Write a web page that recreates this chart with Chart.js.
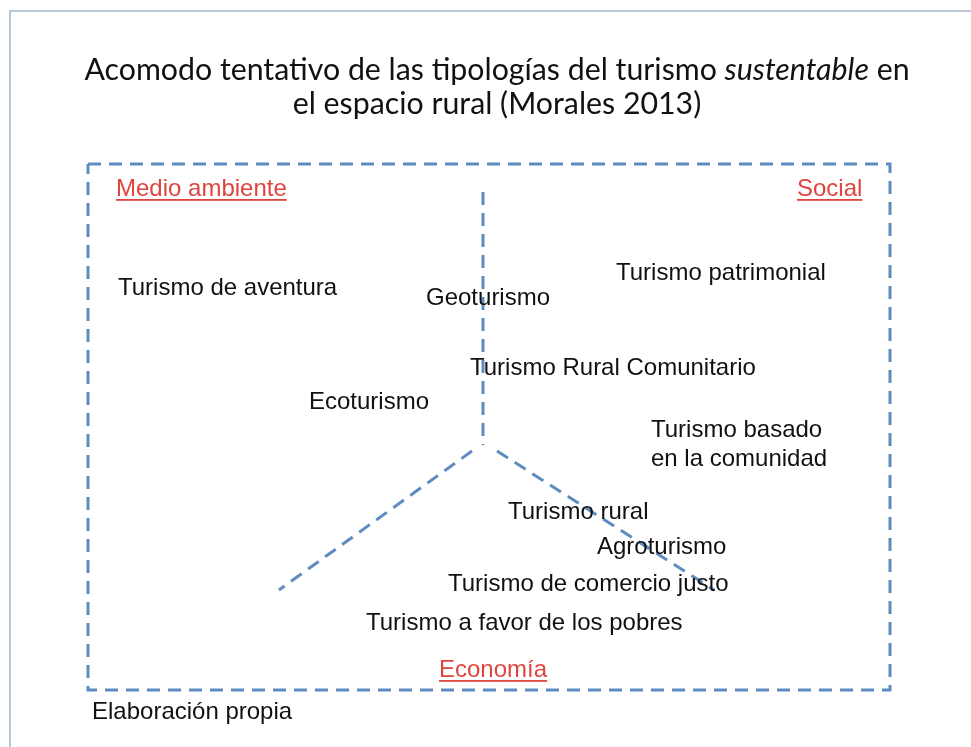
<!DOCTYPE html>
<html>
<head>
<meta charset="utf-8">
<script src="https://cdn.jsdelivr.net/npm/chart.js@4"></script>
<style>
  html, body { margin: 0; padding: 0; background: #fff; }
  #wrap { width: 971px; height: 747px; position: relative; }
</style>
</head>
<body>
<div id="wrap"><canvas id="diagram"></canvas></div>
<script>
// Title lines (second segment of line 1 is italic)
const titleLine1 = ['Acomodo tentativo de las tipologías del turismo ', 'sustentable', ' en'];
const titleLine2 = 'el espacio rural (Morales 2013)';

// Dimension names (red, underlined)
const dimNames = ['Medio ambiente', 'Social', 'Economía'];
const dimX = [116, 797, 439];
const dimY = [189, 189, 670];

// Tourism typologies
const typeNames = [
    'Turismo de aventura', 'Geoturismo', 'Turismo patrimonial',
    'Turismo Rural Comunitario', 'Ecoturismo', 'Turismo basado', 'en la comunidad',
    'Turismo rural', 'Agroturismo', 'Turismo de comercio justo',
    'Turismo a favor de los pobres', 'Elaboración propia'
];
const typeX = [118, 426, 616, 470, 309, 651, 651, 508, 597, 448, 366, 92];
const typeY = [288, 298, 273, 368, 402, 430, 459, 512, 547, 584, 623, 712];

// Dashed frame and the three spokes
const boxX = [88, 890, 890, 88, 88];
const boxY = [164, 164, 690, 690, 164];
const spokeUpX = [483, 483];
const spokeUpY = [192, 445];
const spokeLeftX = [472, 279];
const spokeLeftY = [451, 590];
const spokeRightX = [497, 714];
const spokeRightY = [451, 590];

// Outer slide border
const frameX = [10, 10, 971];
const frameY = [747, 11, 11];

const pts = (xs, ys) => xs.map((x, i) => ({ x: x, y: ys[i] }));

const dashBlue = '#5e8cc0';
const lineSet = (xs, ys, color, width, dash) => ({
    type: 'scatter',
    data: pts(xs, ys),
    showLine: true,
    borderColor: color,
    borderWidth: width,
    borderDash: dash,
    pointRadius: 0,
    fill: false,
    clip: false
});

const labelsPlugin = {
    id: 'textLabels',
    afterDatasetsDraw(chart) {
        const ctx = chart.ctx;
        chart.data.datasets.forEach((ds, di) => {
            if (!ds.texts) return;
            const meta = chart.getDatasetMeta(di);
            ctx.save();
            ctx.font = ds.textFont;
            ctx.fillStyle = ds.textColor;
            ctx.textAlign = 'left';
            ctx.textBaseline = 'middle';
            meta.data.forEach((el, i) => {
                ctx.fillText(ds.texts[i], el.x, el.y);
                if (ds.underline) {
                    const w = ctx.measureText(ds.texts[i]).width;
                    ctx.fillRect(el.x, el.y + 10, w, 1.8);
                }
            });
            ctx.restore();
        });
    }
};

const titlePlugin = {
    id: 'richTitle',
    afterDraw(chart) {
        const ctx = chart.ctx;
        const cx = 497;
        const normal = '30.3px Lato';
        const italic = 'italic 30.3px Lato';
        ctx.save();
        ctx.fillStyle = '#111';
        ctx.textBaseline = 'alphabetic';
        ctx.textAlign = 'left';
        const fonts = [normal, italic, normal];
        const widths = titleLine1.map((t, i) => { ctx.font = fonts[i]; return ctx.measureText(t).width; });
        let x = cx - widths.reduce((a, b) => a + b, 0) / 2;
        titleLine1.forEach((t, i) => {
            ctx.font = fonts[i];
            ctx.fillText(t, x, 80);
            x += widths[i];
        });
        ctx.font = normal;
        ctx.textAlign = 'center';
        ctx.fillText(titleLine2, cx, 114);
        ctx.restore();
    }
};

new Chart(document.getElementById('diagram').getContext('2d'), {
    type: 'scatter',
    data: {
        datasets: [
            lineSet(frameX, frameY, '#b9c8d9', 2, []),
            lineSet(boxX, boxY, dashBlue, 3, [13, 8]),
            lineSet(spokeUpX, spokeUpY, dashBlue, 3, [13, 8]),
            lineSet(spokeLeftX, spokeLeftY, dashBlue, 3, [13, 8]),
            lineSet(spokeRightX, spokeRightY, dashBlue, 3, [13, 8]),
            {
                data: pts(dimX, dimY),
                pointRadius: 0,
                texts: dimNames,
                textFont: '24px "Liberation Sans", Arial, sans-serif',
                textColor: '#e0443e',
                underline: true
            },
            {
                data: pts(typeX, typeY),
                pointRadius: 0,
                texts: typeNames,
                textFont: '24px "Liberation Sans", Arial, sans-serif',
                textColor: '#111',
                underline: false
            }
        ]
    },
    options: {
        responsive: true,
        maintainAspectRatio: false,
        animation: false,
        layout: { padding: 0 },
        plugins: {
            legend: { display: false },
            tooltip: { enabled: false },
            title: { display: false }
        },
        scales: {
            x: { type: 'linear', min: 0, max: 971, display: false },
            y: { type: 'linear', min: 0, max: 747, reverse: true, display: false }
        }
    },
    plugins: [labelsPlugin, titlePlugin]
});
</script>
</body>
</html>
